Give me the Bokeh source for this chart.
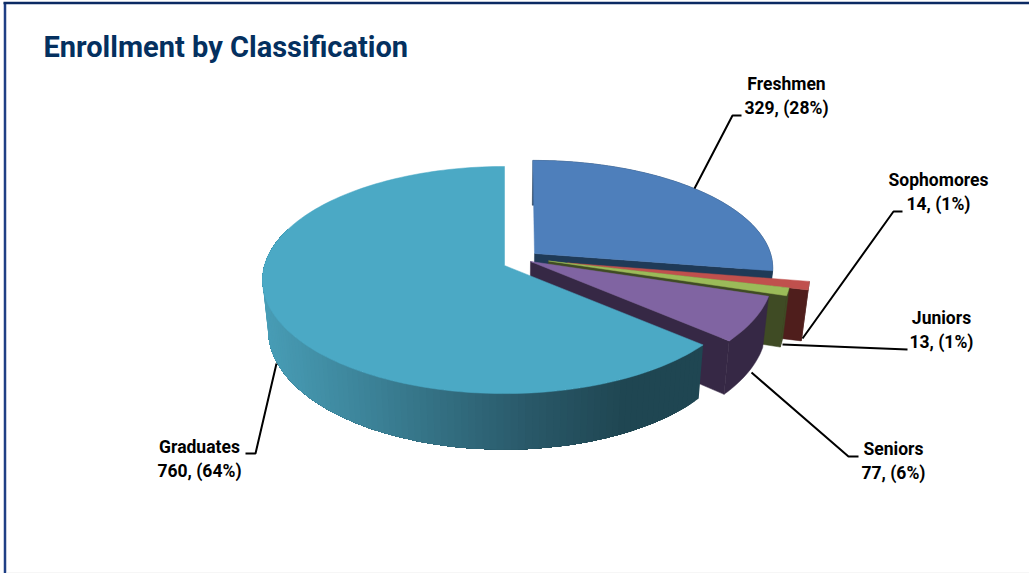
import math
from bokeh.plotting import figure
from bokeh.models import Range1d
from bokeh.embed import file_html
from bokeh.resources import INLINE
from bokeh.core.properties import value

# ---- data ----
categories = ["Freshmen", "Sophomores", "Juniors", "Seniors", "Graduates"]
counts = [329, 14, 13, 77, 760]
percents = [28, 1, 1, 6, 64]
title_text = "Enrollment by Classification"

# ---- appearance of the 3-D pie ----
W, H = 1029, 573
top_colors = ["#4E7FBB", "#C0504D", "#9BBB59", "#8064A2", "#4BA9C5"]
wall_colors = ["#1F3A57", "#4F1E1C", "#3F4B24", "#362845", "#1F4652"]
# apex x, apex y (pixel-scale data units), radius, foreshortened radius, lean
slice_geom = {
    "Freshmen": (534, 253, 236, 105, -0.018),
    "Sophomores": (567, 262.5, 240, 111.7, 0),
    "Juniors": (548, 260.5, 240, 111.7, 0),
    "Seniors": (530, 261, 240, 111.7, 0),
    "Graduates": (504, 265, 240, 111.7, 0),
}
PERSP = 0.128
VAN_X, SHRINK = 510, 0.977
gradient_stops = [(262, "#489DB6"), (350, "#3E879D"), (440, "#336F82"),
                  (530, "#295868"), (625, "#1F4652"), (710, "#1F4652")]

label_pos = {
    "Freshmen": (786, 83.5, "center"), "Sophomores": (938, 179.5, "center"),
    "Juniors": (941, 317.5, "center"), "Seniors": (893, 448.5, "center"),
    "Graduates": (199, 446.5, "center"),
}
leaders = {
    "Freshmen": ([694, 732, 741], [188, 115, 115]),
    "Sophomores": ([802, 893, 902], [338, 211, 211]),
    "Juniors": ([782, 907], [344, 349]),
    "Seniors": ([751, 848, 858], [372, 456, 456]),
    "Graduates": ([276, 255, 245], [363, 453, 453]),
}


def top_pt(theta, g):
    ax, ay, r, tr, lean = g
    s, c = math.sin(math.radians(theta)), math.cos(math.radians(theta))
    d = 1 + PERSP * c
    return ax + r * s / d + lean * tr * c / d, ay - tr * c / d


def drop(pt):
    x, y = pt
    return VAN_X + (x - VAN_X) * SHRINK, y + 51 + 0.048 * (y - 289)


def grad(x):
    for (x0, c0), (x1, c1) in zip(gradient_stops, gradient_stops[1:]):
        if x <= x1:
            t = max(0, (x - x0) / (x1 - x0))
            a = [int(c0[i:i + 2], 16) for i in (1, 3, 5)]
            b = [int(c1[i:i + 2], 16) for i in (1, 3, 5)]
            return "#%02X%02X%02X" % tuple(round(p + (q - p) * t) for p, q in zip(a, b))
    return gradient_stops[-1][1]


p = figure(width=W, height=H, x_range=Range1d(0, W), y_range=Range1d(H, 0),
           output_backend="svg", toolbar_location=None, min_border=0,
           x_axis_type=None, y_axis_type=None, outline_line_color=None,
           background_fill_color="white", border_fill_color="white")
p.grid.visible = False
p.styles = {"position": "absolute", "left": "0px", "top": "0px"}

# frame of the slide
p.line([4.5, 4.5], [2, H], line_color="#1F3F85", line_width=2.5)
p.line([3, W], [2.5, 2.5], line_color="#0B2A63", line_width=2.5)
p.line([6, W], [572.5, 572.5], line_color="#EDEDED", line_width=1)

total = sum(counts)
start = 0.0
for name, n, tc, wc in zip(categories, counts, top_colors, wall_colors):
    end = start + 360.0 * n / total
    g = slice_geom[name]
    steps = max(2, int((end - start) / 1.5))
    thetas = [start + (end - start) * i / steps for i in range(steps + 1)]
    apex = (g[0], g[1])
    rim = [top_pt(t, g) for t in thetas]
    if name != "Graduates":
        # radial wall on the near side, then the outer wall
        a_b, c_b = drop(apex), drop(rim[-1])
        p.patch([apex[0], rim[-1][0], c_b[0], a_b[0]], [apex[1], rim[-1][1], c_b[1], a_b[1]],
                fill_color=wc, line_color=wc, line_width=0.5)
        low = [drop(q) for q in rim]
        p.patch([q[0] for q in rim] + [q[0] for q in reversed(low)],
                [q[1] for q in rim] + [q[1] for q in reversed(low)],
                fill_color=wc, line_color=wc, line_width=0.5)
    else:
        # outer wall shaded in strips; the whole remaining wall is repainted
        # at each step, so no seam shows between neighbouring colours.
        wall_t = [start + i * 1.5 for i in range(int((290 - start) / 1.5) + 1)]
        for i, t0 in enumerate(wall_t[:-1]):
            part = wall_t[i:]
            upper = [top_pt(t, g) for t in part]
            lower = [drop(q) for q in upper]
            col = grad((upper[0][0] + upper[1][0]) / 2)
            p.patch([q[0] for q in upper] + [q[0] for q in reversed(lower)],
                    [q[1] for q in upper] + [q[1] for q in reversed(lower)],
                    fill_color=col, line_color=None)
    p.patch([apex[0]] + [q[0] for q in rim], [apex[1]] + [q[1] for q in rim],
            fill_color=tc, line_color=tc, line_width=0.5)
    start = end

# leader lines and labels
for name, n, pc in zip(categories, counts, percents):
    xs, ys = leaders[name]
    p.line(xs, ys, line_color="black", line_width=2)
    x, y, al = label_pos[name]
    for dy, txt in ((0, name), (24, f"{n}, ({pc}%)")):
        p.text([x], [y + dy], text=[txt], text_font=value("Roboto"),
               text_font_style="bold", text_font_size="17.5px", text_color="black",
               text_align=al, text_baseline="middle")

p.text([43], [46.5], text=[title_text], text_font=value("Roboto"),
       text_font_style="bold", text_font_size="29px", text_color="#04305F",
       text_align="left", text_baseline="middle")

open("out.html", "w").write(file_html(p, INLINE))
